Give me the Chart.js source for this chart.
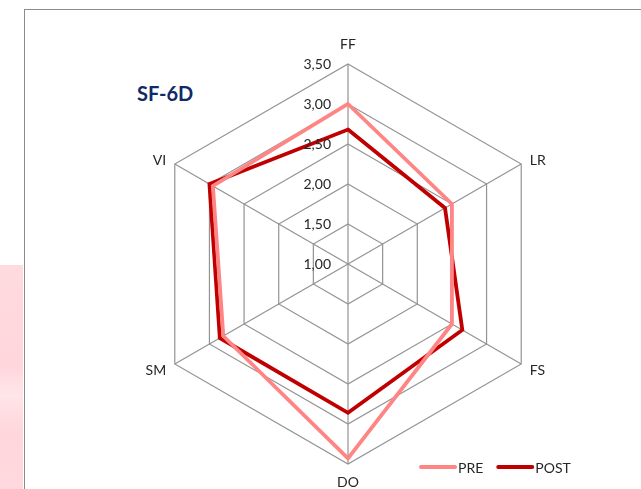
<!DOCTYPE html>
<html>
<head>
<meta charset="utf-8">
<script src="https://cdn.jsdelivr.net/npm/chart.js@4/dist/chart.umd.min.js"></script>
<style>
  html, body { margin: 0; padding: 0; background: #ffffff; }
  #wrap { position: relative; width: 641px; height: 489px; overflow: hidden; }
  #mark { position: absolute; left: 0; top: 265px; width: 23px; height: 224px;
          background: linear-gradient(180deg, #ffdade 0%, #ffd6db 45%, #ffe6e9 58%, #ffdfe3 64%, #ffd6db 75%, #ffd9dd 100%); }
  #frame { position: absolute; left: 24px; top: 9px; width: 640px; height: 500px;
           border-left: 1px solid #8c8c8c; border-top: 1px solid #8c8c8c; }
  #title { position: absolute; left: 137px; top: 80px; font: bold 20px Lato, "Open Sans", sans-serif;
           color: #0f2a66; line-height: 26px; }
  canvas { position: absolute; left: 0; top: 0; }
</style>
</head>
<body>
<div id="wrap">
  <div id="mark"></div>
  <div id="frame"></div>
  <div id="title">SF-6D</div>
  <canvas id="c" width="641" height="489"></canvas>
</div>
<script>
// SF-6D domains
const categories = ['FF', 'LR', 'FS', 'DO', 'SM', 'VI'];
const preValues  = [3.00, 2.50, 2.50, 3.43, 2.80, 2.95];
const postValues = [2.68, 2.40, 2.65, 2.86, 2.85, 3.00];
const seriesNames = ['PRE', 'POST'];
const scaleMin = 1.0, scaleMax = 3.5, scaleStep = 0.5;

const FONT = 'Lato, "Open Sans", sans-serif';
const TEXT = '#262626';

const fmt = v => v.toFixed(2).replace('.', ',');

// tick labels, axis names and the legend, drawn from the radial scale
const decorations = {
  id: 'decorations',
  afterDraw(chart) {
    const s = chart.scales.r;
    const ctx = chart.ctx;
    ctx.save();
    ctx.fillStyle = TEXT;
    ctx.font = '14px ' + FONT;

    // values along the first spoke
    ctx.textAlign = 'right';
    ctx.textBaseline = 'middle';
    s.ticks.forEach(t => {
      const d = s.getDistanceFromCenterForValue(t.value);
      ctx.fillText(fmt(t.value), s.xCenter - 17, s.yCenter - d);
    });

    // domain names outside the outer ring
    chart.data.labels.forEach((lab, i) => {
      const p = s.getPointPosition(i, s.drawingArea + 10);
      const dx = p.x - s.xCenter;
      if (Math.abs(dx) < 1) {
        ctx.textAlign = 'center';
        const up = p.y < s.yCenter;
        ctx.textBaseline = up ? 'bottom' : 'top';
        ctx.fillText(lab, p.x, up ? p.y - 3 : p.y + 1);
      } else {
        ctx.textAlign = dx > 0 ? 'left' : 'right';
        ctx.textBaseline = 'middle';
        ctx.fillText(lab, p.x, p.y + 1);
      }
    });

    // legend
    const ly = 467;
    let lx = 421;
    ctx.textAlign = 'left';
    ctx.textBaseline = 'middle';
    chart.data.datasets.forEach(ds => {
      ctx.strokeStyle = ds.borderColor;
      ctx.lineWidth = 4;
      ctx.lineCap = 'round';
      ctx.beginPath();
      ctx.moveTo(lx, ly);
      ctx.lineTo(lx + 34, ly);
      ctx.stroke();
      ctx.fillText(ds.label, lx + 37, ly + 1);
      lx += 37 + ctx.measureText(ds.label).width + 15;
    });
    ctx.restore();
  }
};

new Chart(document.getElementById('c'), {
  type: 'radar',
  data: {
    labels: categories,
    datasets: [
      { label: seriesNames[0], data: preValues, borderColor: '#ff8585', borderWidth: 3.8,
        fill: false, pointRadius: 0, pointHoverRadius: 0, borderJoinStyle: 'miter' },
      { label: seriesNames[1], data: postValues, borderColor: '#c00000', borderWidth: 3.8,
        fill: false, pointRadius: 0, pointHoverRadius: 0, borderJoinStyle: 'miter' }
    ]
  },
  options: {
    responsive: false,
    animation: false,
    events: [],
    layout: { padding: { left: 148, right: 93, top: 64, bottom: 25 } },
    plugins: { legend: { display: false }, tooltip: { enabled: false }, title: { display: false } },
    scales: {
      r: {
        min: scaleMin,
        max: scaleMax,
        ticks: { stepSize: scaleStep, display: false },
        pointLabels: { display: false },
        grid: { color: '#939393', lineWidth: 1.2, circular: false },
        angleLines: { color: '#939393', lineWidth: 1.2 }
      }
    }
  },
  plugins: [decorations]
});
</script>
</body>
</html>
